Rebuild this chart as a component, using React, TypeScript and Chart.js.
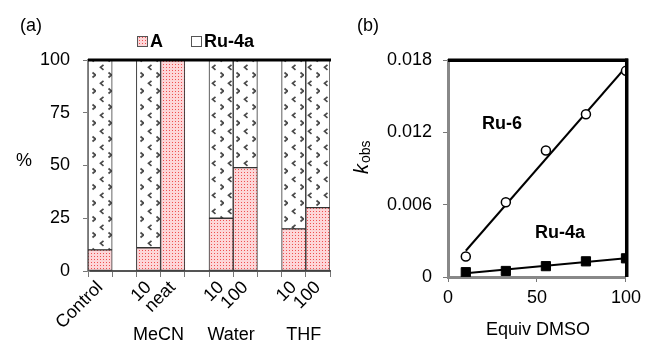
import React, { useEffect, useRef } from 'react';
import { Chart, registerables } from 'chart.js';
Chart.register(...registerables);

// ---------- Panel (a) data ----------
const categories = ['Control', '', '10', 'neat', '', '10', '100', '', '10', '100'];
const seriesA = [10, 0, 11, 100, 0, 25, 49, 0, 20, 30];
const seriesRu4a = [90, 0, 89, 0, 0, 75, 51, 0, 80, 70];
const leftYTicks = [0, 25, 50, 75, 100];
const groupLabels = ['MeCN', 'Water', 'THF'];
const groupFirstIndex = [2, 5, 8];

// ---------- Panel (b) data ----------
const equivDmso = [10, 32.5, 55, 77.5, 100];
const kRu6 = [0.0017, 0.0062, 0.0105, 0.0135, 0.0171];
const kRu4a = [0.0004, 0.0005, 0.0009, 0.0013, 0.00155];
const rightXTicks = [0, 50, 100];
const rightYTicks = [0, 0.006, 0.012, 0.018];

const FONT = '"Liberation Sans", Arial, sans-serif';

function linFit(xs: number[], ys: number[]) {
  const n = xs.length;
  const mx = xs.reduce((a, b) => a + b, 0) / n;
  const my = ys.reduce((a, b) => a + b, 0) / n;
  let sxy = 0, sxx = 0;
  for (let i = 0; i < n; i++) { sxy += (xs[i] - mx) * (ys[i] - my); sxx += (xs[i] - mx) ** 2; }
  const m = sxy / sxx;
  const b = my - m * mx;
  const x0 = Math.min(...xs), x1 = Math.max(...xs);
  return [{ x: x0, y: m * x0 + b }, { x: x1, y: m * x1 + b }];
}

function makeDotPattern(ctx: CanvasRenderingContext2D) {
  const c = document.createElement('canvas');
  c.width = 3; c.height = 3;
  const g = c.getContext('2d')!;
  g.fillStyle = '#fdd6d8';
  g.fillRect(0, 0, 3, 3);
  g.fillStyle = '#ee5050';
  g.fillRect(1, 1, 1, 1);
  return ctx.createPattern(c, 'repeat')!;
}

function makeChevronPattern(ctx: CanvasRenderingContext2D) {
  const c = document.createElement('canvas');
  c.width = 16; c.height = 16;
  const g = c.getContext('2d')!;
  g.fillStyle = '#ffffff';
  g.fillRect(0, 0, 16, 16);
  g.strokeStyle = '#4a4a4a';
  g.lineWidth = 1.7;
  g.lineJoin = 'miter';
  g.beginPath();
  g.moveTo(12.5, 8.5); g.lineTo(15.5, 11); g.lineTo(12.5, 13.5);
  g.moveTo(7.5, 0.8); g.lineTo(4.5, 3.3); g.lineTo(7.5, 5.8);
  g.stroke();
  return ctx.createPattern(c, 'repeat')!;
}

function LeftChart() {
  const ref = useRef<HTMLCanvasElement>(null);
  useEffect(() => {
    const canvas = ref.current!;
    const ctx = canvas.getContext('2d')!;
    const dotPat = makeDotPattern(ctx);
    const chevPat = makeChevronPattern(ctx);
    const decor = {
      id: 'decorA',
      afterDraw(chart: any) {
        const c = chart.ctx as CanvasRenderingContext2D;
        const { left, right, top } = chart.chartArea;
        c.save();
        c.fillStyle = '#000';
        c.fillRect(left, top - 1.5, right - left + 1, 3);
        c.textBaseline = 'middle';
        c.textAlign = 'left';
        c.font = `18px ${FONT}`;
        c.fillText('(a)', 20, 26);
        c.fillText('%', 16, 161);
        // legend
        c.fillStyle = dotPat;
        c.fillRect(137, 36, 10, 10);
        c.strokeStyle = '#555';
        c.lineWidth = 1;
        c.strokeRect(137.5, 36.5, 10, 10);
        c.fillStyle = '#fff';
        c.fillRect(191, 36, 10, 10);
        c.strokeRect(191.5, 36.5, 10, 10);
        c.fillStyle = '#000';
        c.font = `bold 18px ${FONT}`;
        c.fillText('A', 150, 42);
        c.fillText('Ru-4a', 204, 42);
        // group labels
        c.font = `18px ${FONT}`;
        c.textAlign = 'center';
        const xs = chart.scales.x;
        groupLabels.forEach((lab, i) => {
          const i0 = groupFirstIndex[i];
          const cx = (xs.getPixelForValue(i0) + xs.getPixelForValue(i0 + 1)) / 2;
          c.fillText(lab, cx - 2, 335);
        });
        c.restore();
      },
    };
    const chart = new Chart(canvas, {
      type: 'bar',
      data: {
        labels: categories,
        datasets: [
          { label: 'A', data: seriesA, backgroundColor: dotPat, borderColor: '#333', borderWidth: 1, borderSkipped: false, barPercentage: 1, categoryPercentage: 1 },
          { label: 'Ru-4a', data: seriesRu4a, backgroundColor: chevPat, borderColor: '#333', borderWidth: 1, borderSkipped: false, barPercentage: 1, categoryPercentage: 1 },
        ],
      },
      options: {
        responsive: false,
        animation: false,
        devicePixelRatio: 1,
        layout: { padding: { left: 0, right: 5, top: 60, bottom: 0 } },
        plugins: { legend: { display: false }, tooltip: { enabled: false } },
        scales: {
          x: {
            stacked: true,
            afterFit: (s: any) => { s.height = 73; },
            grid: { drawOnChartArea: false, drawTicks: true, tickLength: 6, color: '#777', offset: true },
            border: { color: '#555', width: 2 },
            ticks: { color: '#000', font: { family: FONT, size: 18 }, minRotation: 45, maxRotation: 45, autoSkip: false, padding: 0 },
          },
          y: {
            stacked: true,
            min: 0,
            max: 100,
            afterFit: (s: any) => { s.width = 88; },
            afterBuildTicks: (s: any) => { s.ticks = leftYTicks.map((v) => ({ value: v })); },
            grid: { drawOnChartArea: false, drawTicks: true, tickLength: 5, color: '#777' },
            border: { color: '#888', width: 3 },
            ticks: { color: '#000', font: { family: FONT, size: 18 }, padding: 13 },
          },
        },
      },
      plugins: [decor],
    } as any);
    return () => chart.destroy();
  }, []);
  return <canvas ref={ref} width={335} height={344} style={{ position: 'absolute', left: 0, top: 0, width: 335, height: 344 }} />;
}

function RightChart() {
  const ref = useRef<HTMLCanvasElement>(null);
  useEffect(() => {
    const canvas = ref.current!;
    const decor = {
      id: 'decorB',
      afterDraw(chart: any) {
        const c = chart.ctx as CanvasRenderingContext2D;
        const { left, right, top, bottom } = chart.chartArea;
        c.save();
        c.fillStyle = '#000';
        c.fillRect(left, top - 1.5, right - left + 2, 3.5);
        c.fillRect(right - 1, top - 1.5, 3.5, bottom - top + 1.5);
        c.textBaseline = 'middle';
        c.textAlign = 'left';
        c.font = `18px ${FONT}`;
        c.fillText('(b)', 22, 26);
        c.textAlign = 'center';
        c.fillText('Equiv DMSO', 203, 330);
        c.textAlign = 'left';
        c.font = `bold 18px ${FONT}`;
        c.fillText('Ru-6', 147, 124);
        c.fillText('Ru-4a', 200, 233);
        // k_obs rotated
        c.translate(33, 174);
        c.rotate(-Math.PI / 2);
        c.textBaseline = 'alphabetic';
        c.font = `italic 20px ${FONT}`;
        c.fillText('k', 0, 0);
        const kw = c.measureText('k').width;
        c.font = `14px ${FONT}`;
        c.fillText('obs', kw + 1, 2);
        c.restore();
      },
    };
    const chart = new Chart(canvas, {
      type: 'scatter',
      data: {
        datasets: [
          { label: 'Ru-6 fit', type: 'line', data: linFit(equivDmso, kRu6), borderColor: '#000', borderWidth: 2, pointRadius: 0, fill: false, order: 2 },
          { label: 'Ru-4a fit', type: 'line', data: linFit(equivDmso, kRu4a), borderColor: '#000', borderWidth: 2, pointRadius: 0, fill: false, order: 2 },
          { label: 'Ru-6', data: equivDmso.map((x, i) => ({ x, y: kRu6[i] })), pointStyle: 'circle', pointRadius: 4.5, pointBackgroundColor: '#fff', pointBorderColor: '#000', pointBorderWidth: 1.5, order: 1 },
          { label: 'Ru-4a', data: equivDmso.map((x, i) => ({ x, y: kRu4a[i] })), pointStyle: 'rect', pointRadius: 6.5, pointBackgroundColor: '#000', pointBorderColor: '#000', pointBorderWidth: 1, order: 1 },
        ],
      },
      options: {
        responsive: false,
        animation: false,
        devicePixelRatio: 1,
        layout: { padding: { left: 0, right: 16, top: 60, bottom: 0 } },
        plugins: { legend: { display: false }, tooltip: { enabled: false } },
        scales: {
          x: {
            type: 'linear',
            min: 0,
            max: 100,
            afterFit: (s: any) => { s.height = 67; },
            afterBuildTicks: (s: any) => { s.ticks = rightXTicks.map((v) => ({ value: v })); },
            grid: { drawOnChartArea: false, drawTicks: true, tickLength: 5, color: '#777' },
            border: { color: '#888', width: 3 },
            ticks: { color: '#000', font: { family: FONT, size: 18 }, padding: 5 },
          },
          y: {
            type: 'linear',
            min: 0,
            max: 0.018,
            afterFit: (s: any) => { s.width = 113; },
            afterBuildTicks: (s: any) => { s.ticks = rightYTicks.map((v) => ({ value: v })); },
            grid: { drawOnChartArea: false, drawTicks: true, tickLength: 5, color: '#777' },
            border: { color: '#888', width: 3 },
            ticks: { color: '#000', font: { family: FONT, size: 18 }, padding: 11, callback: (v: any) => (v === 0 ? '0' : Number(v).toFixed(3)) },
          },
        },
      },
      plugins: [decor],
    } as any);
    return () => chart.destroy();
  }, []);
  return <canvas ref={ref} width={311} height={344} style={{ position: 'absolute', left: 335, top: 0, width: 311, height: 344 }} />;
}

export default function App() {
  return (
    <div style={{ position: 'absolute', left: 0, top: 0, width: 646, height: 344, background: '#fff', overflow: 'hidden' }}>
      <LeftChart />
      <RightChart />
    </div>
  );
}
